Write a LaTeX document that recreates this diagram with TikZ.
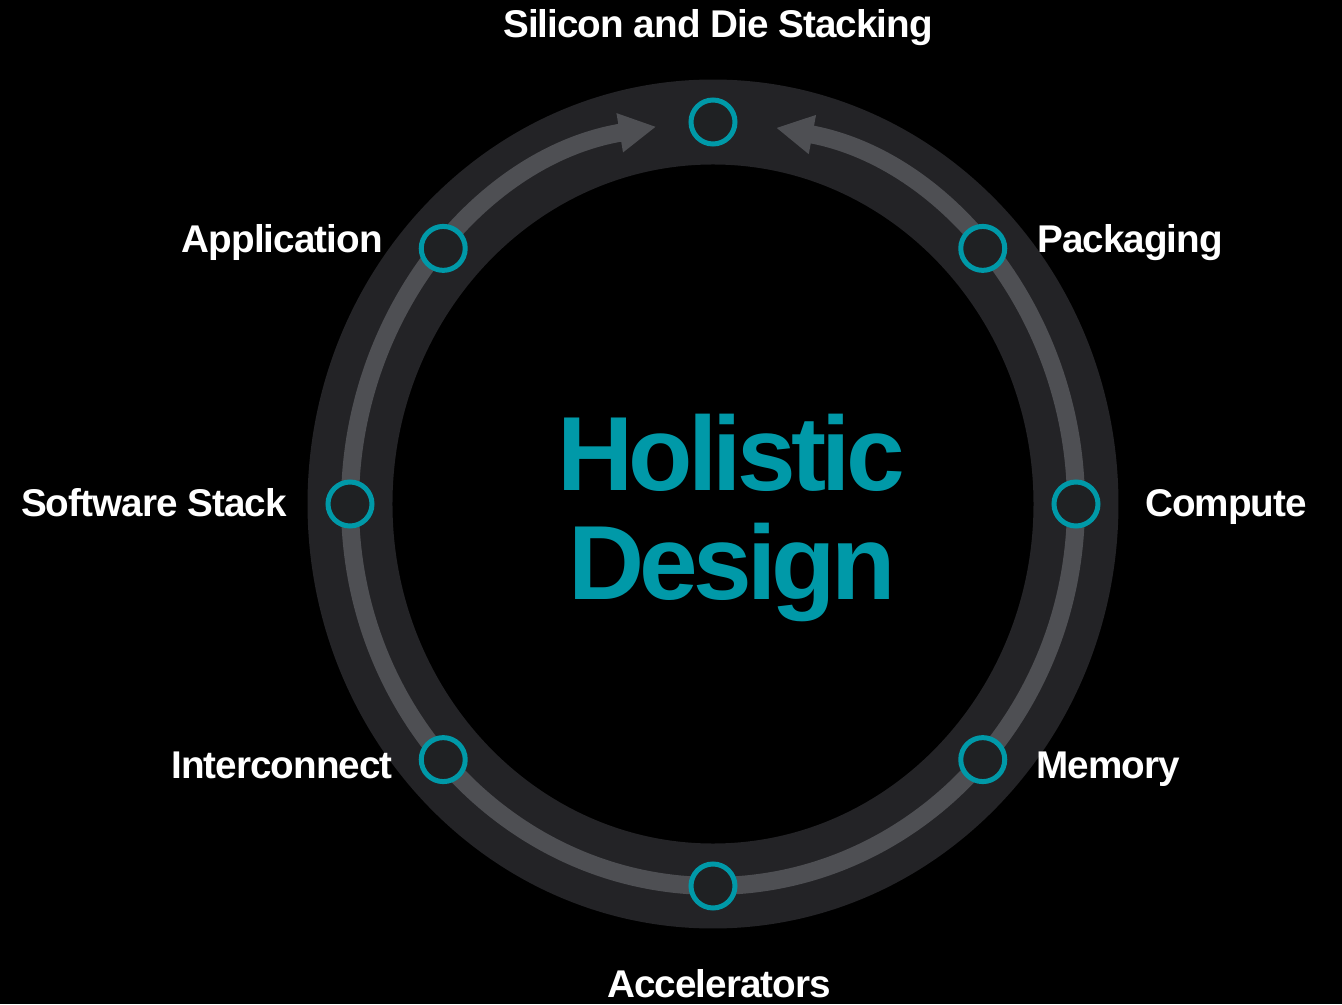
\documentclass[tikz,border=0pt]{standalone}
\usepackage{fontspec}
\setmainfont{Liberation Sans}
\newfontfamily\lblfont[LetterSpace=-2.5]{Liberation Sans}
\newfontfamily\holfont[LetterSpace=-4.5]{Liberation Sans}
\usetikzlibrary{arrows.meta}
\definecolor{ringgray}{RGB}{35,35,38}
\definecolor{bandgray}{RGB}{78,79,83}
\definecolor{dotfill}{RGB}{31,33,35}
\definecolor{holteal}{RGB}{0,153,168}

\begin{document}
\begin{tikzpicture}[x=0.02cm,y=0.02cm,
  lbl/.style={text=white,inner sep=0pt,font=\lblfont\fontsize{22}{26}\selectfont\bfseries},
  hol/.style={text=holteal,inner sep=0pt,anchor=base,font=\holfont\fontsize{60}{66}\selectfont\bfseries},
  dot/.style={circle,draw=holteal,fill=dotfill,line width=0.1cm,inner sep=0pt,minimum size=0.88cm},
  band/.style={bandgray,line width=0.36cm,-{Triangle[length=0.74cm,width=0.74cm]}}]
\fill[black] (-713,-500) rectangle (629,504);
\useasboundingbox (-713,-500) rectangle (629,504);
%ring and arrows
\draw[ringgray,line width=1.7cm] (0,0) ellipse [x radius=363,y radius=382];
\draw[band] (270:363 and 382) arc [start angle=270,end angle=99,x radius=363,y radius=382];
\draw[band] (-90:363 and 382) arc [start angle=-90,end angle=80,x radius=363,y radius=382];
%stations
\foreach \a/\n in {90/ca,42/cb,0/cc,-42/cd,-90/ce,-138/cf,180/cg,138/ch}
  \node[dot] (\n) at (\a:363 and 382) {};
%
\node[lbl,anchor=base] (la) at (5,466) {Silicon and Die Stacking};
\node[lbl,anchor=base west] (lb) at (324,251) {Packaging};
\node[lbl,anchor=base west] (lc) at (432,-12) {Compute};
\node[lbl,anchor=base west] (ld) at (323,-274) {Memory};
\node[lbl,anchor=base] (le) at (6,-493) {Accelerators};
\node[lbl,anchor=base east] (lf) at (-320,-274) {Interconnect};
\node[lbl,anchor=base east] (lg) at (-426,-12) {Software Stack};
\node[lbl,anchor=base east] (lh) at (-330,251) {Application};
\node[hol] (hs) at (18,13) {Holistic};
\node[hol] (ds) at (19,-95) {Design};
\end{tikzpicture}
\end{document}
